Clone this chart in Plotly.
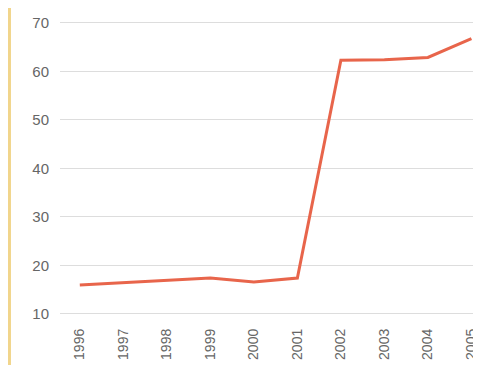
import plotly.graph_objects as go

# Values
years = [1996, 1997, 1998, 1999, 2000, 2001, 2002, 2003, 2004, 2005]
values = [16.0, 16.5, 17.0, 17.4, 16.6, 17.4, 62.3, 62.4, 62.9, 66.8]
y_ticks = [10, 20, 30, 40, 50, 60, 70]

fig = go.Figure()

fig.add_trace(go.Scatter(
    x=years,
    y=values,
    mode="lines",
    line=dict(color="#e8654b", width=3),
    showlegend=False,
))

# Thin yellowish rule down the left edge
fig.add_shape(
    type="line", xref="paper", yref="paper",
    x0=-0.12, x1=-0.12, y0=-0.2, y1=1.05,
    line=dict(color="#f1d58c", width=3),
)

# page body has an 8px margin, so the figure is a bit smaller than the window
fig.update_layout(
    width=473,
    height=357,
    margin=dict(l=52, r=0, t=0, b=50),
    paper_bgcolor="white",
    plot_bgcolor="white",
    font=dict(family="Arial, Liberation Sans, sans-serif", size=15, color="#666666"),
    xaxis=dict(
        range=[1995.545, 2005.22],
        tickmode="array",
        tickvals=years,
        ticktext=[str(y) for y in years],
        tickangle=-90,
        tickfont=dict(size=14),
        showgrid=False,
        zeroline=False,
        showline=False,
        ticks="",
        ticklabelstandoff=10,
        ticklabeloverflow="allow",
        automargin=False,
    ),
    yaxis=dict(
        range=[9.79, 73.09],
        tickmode="array",
        tickvals=y_ticks,
        showgrid=True,
        gridcolor="#dddddd",
        gridwidth=1,
        zeroline=False,
        showline=False,
        ticks="",
        ticklabelstandoff=10,
        automargin=False,
    ),
)

fig.write_html("out.html")
